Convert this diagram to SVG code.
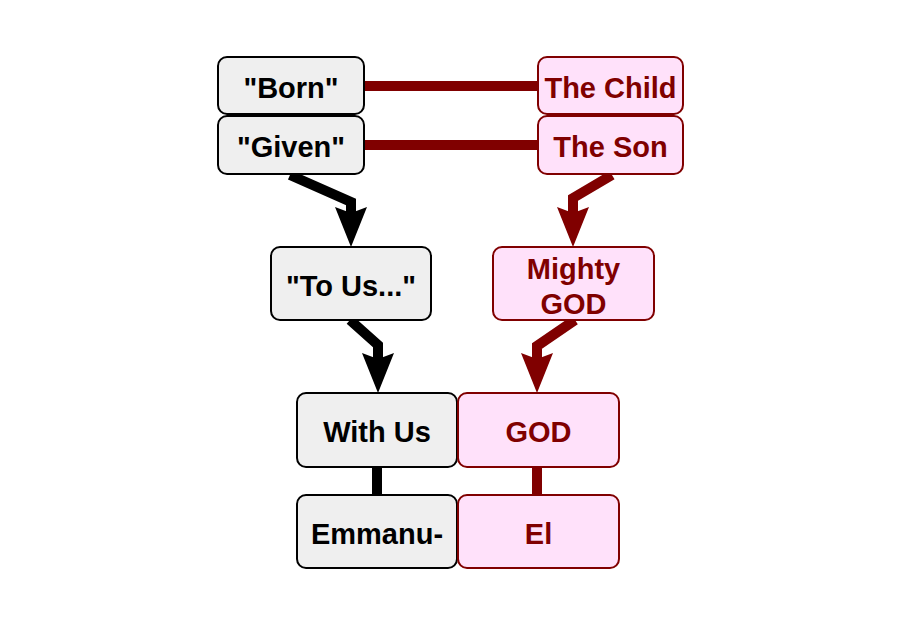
<svg xmlns="http://www.w3.org/2000/svg" width="911" height="635" viewBox="0 0 911 635">
<style>
.g rect{fill:#efefef;stroke:#000;stroke-width:2}
.p rect{fill:#ffe1fa;stroke:#800000;stroke-width:2}
text{font-family:"Liberation Sans",Arial,sans-serif;font-weight:bold;font-size:29px;text-anchor:middle}
.g text{fill:#000}
.p text{fill:#800000}
.lk{fill:none;stroke:#000;stroke-width:10;stroke-linejoin:miter}
.lr{fill:none;stroke:#800000;stroke-width:10;stroke-linejoin:miter}
</style>
<defs>
<marker id="ak" viewBox="-8 -18 44 36" markerWidth="44" markerHeight="36" refX="0" refY="0" orient="auto" markerUnits="userSpaceOnUse">
<path d="M0,0 L-6,-16 L34,0 L-6,16 Z" fill="#000"/>
</marker>
<marker id="ar" viewBox="-8 -18 44 36" markerWidth="44" markerHeight="36" refX="0" refY="0" orient="auto" markerUnits="userSpaceOnUse">
<path d="M0,0 L-6,-16 L34,0 L-6,16 Z" fill="#800000"/>
</marker>
</defs>
<g id="connectors">
<line class="lr" x1="364" y1="86" x2="538" y2="86"/>
<line class="lr" x1="364" y1="145" x2="538" y2="145"/>
<line class="lk" x1="377" y1="467" x2="377" y2="495"/>
<line class="lr" x1="537" y1="467" x2="537" y2="495"/>
<path class="lk" d="M290,175 L351,202 L351,213" marker-end="url(#ak)"/>
<path class="lr" d="M612,175 L573,198 L573,213" marker-end="url(#ar)"/>
<path class="lk" d="M350,320 L378,345 L378,359" marker-end="url(#ak)"/>
<path class="lr" d="M575,320 L537,346 L537,359" marker-end="url(#ar)"/>
</g>
<g id="born" class="g"><rect x="218" y="57" width="146" height="57" rx="9"/><text x="291" y="98">"Born"</text></g>
<g id="given" class="g"><rect x="218" y="116" width="146" height="58" rx="9"/><text x="291" y="157">"Given"</text></g>
<g id="child" class="p"><rect x="538" y="57" width="145" height="57" rx="9"/><text x="610.5" y="98">The Child</text></g>
<g id="son" class="p"><rect x="538" y="116" width="145" height="58" rx="9"/><text x="610.5" y="157">The Son</text></g>
<g id="tous" class="g"><rect x="271" y="247" width="160" height="73" rx="9"/><text x="351" y="296">"To Us..."</text></g>
<g id="mighty" class="p"><rect x="493" y="247" width="161" height="73" rx="9"/><text x="573.5" y="279">Mighty</text><text x="573.5" y="314">GOD</text></g>
<g id="withus" class="g"><rect x="297" y="393" width="160" height="74" rx="9"/><text x="377" y="442">With Us</text></g>
<g id="god" class="p"><rect x="458" y="393" width="161" height="74" rx="9"/><text x="538.5" y="442">GOD</text></g>
<g id="emmanu" class="g"><rect x="297" y="495" width="160" height="73" rx="9"/><text x="377" y="544">Emmanu-</text></g>
<g id="el" class="p"><rect x="458" y="495" width="161" height="73" rx="9"/><text x="538.5" y="544">El</text></g>
</svg>
